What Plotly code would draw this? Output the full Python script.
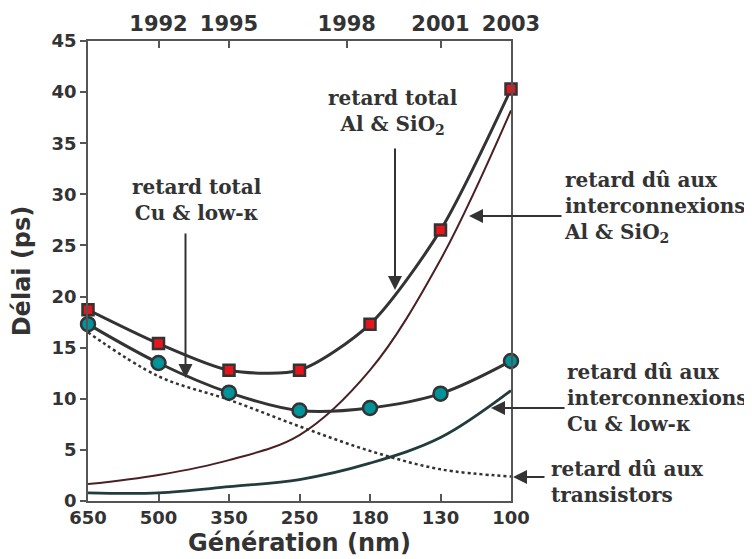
import plotly.graph_objects as go

generations = ["650", "500", "350", "250", "180", "130", "100"]
xi = list(range(len(generations)))
years = ["1992", "1995", "1998", "2001", "2003"]
year_pos = [1, 2, 3.67, 5, 6]

total_al = [18.7, 15.4, 12.8, 12.8, 17.3, 26.5, 40.3]
total_cu = [17.3, 13.5, 10.6, 8.85, 9.1, 10.5, 13.7]
inter_al = [1.65, 2.55, 4.0, 6.45, 12.8, 23.6, 38.2]
inter_cu = [0.8, 0.8, 1.4, 2.1, 3.7, 6.2, 10.8]
transistors = [16.5, 12.2, 9.9, 7.3, 4.9, 3.1, 2.4]

DARK = "#333333"
fig = go.Figure()

fig.add_trace(go.Scatter(x=xi, y=inter_al, mode="lines", line=dict(color="#4a2024", width=2, shape="spline"),
                         cliponaxis=False, showlegend=False))
fig.add_trace(go.Scatter(x=xi, y=inter_cu, mode="lines", line=dict(color="#223c3e", width=2.8, shape="spline"),
                         cliponaxis=False, showlegend=False))
fig.add_trace(go.Scatter(x=xi, y=transistors, mode="lines", line=dict(color=DARK, width=2.5, dash="dot", shape="spline"),
                         cliponaxis=False, showlegend=False))
fig.add_trace(go.Scatter(x=xi, y=total_al, mode="lines+markers",
                         line=dict(color=DARK, width=3, shape="spline", smoothing=0.75),
                         marker=dict(symbol="square", size=11, color="#e8141c", line=dict(color=DARK, width=2.5)),
                         cliponaxis=False, showlegend=False))
fig.add_trace(go.Scatter(x=xi, y=total_cu, mode="lines+markers", line=dict(color=DARK, width=3, shape="spline"),
                         marker=dict(symbol="circle", size=14, color="#00939a", line=dict(color=DARK, width=2.5)),
                         cliponaxis=False, showlegend=False))
# invisible trace for top axis
fig.add_trace(go.Scatter(x=[0, 6], y=[0, 0], xaxis="x2", mode="markers", marker=dict(opacity=0),
                         showlegend=False, hoverinfo="skip"))

# the page body adds an 8px offset; compensate so the plot lands where the reference has it
OFF = 8
W, H = 744, 551
L, R, T, B = 80, 241, 33, 58

fig.update_layout(
    width=W, height=H,
    margin=dict(l=L, r=R, t=T, b=B),
    paper_bgcolor="white", plot_bgcolor="white",
    font=dict(family="DejaVu Sans", color=DARK),
    xaxis=dict(range=[0, 6], tickvals=xi, ticktext=[f"<b>{g}</b>" for g in generations],
               ticks="inside", ticklen=7, tickwidth=1.5, tickcolor="#555", automargin=False,
               showline=True, linecolor="#555", linewidth=1.5, showgrid=False, zeroline=False,
               tickfont=dict(family="DejaVu Sans", size=18, color=DARK),
               title=dict(text="<b>Génération (nm)</b>", font=dict(family="DejaVu Sans", size=24, color=DARK), standoff=7)),
    xaxis2=dict(range=[0, 6], overlaying="x", side="top", tickvals=year_pos,
                ticktext=[f"<b>{y}</b>" for y in years], automargin=False,
                ticks="inside", ticklen=7, tickwidth=1.5, tickcolor="#555",
                showline=True, linecolor="#555", linewidth=1.5, showgrid=False, zeroline=False,
                tickfont=dict(family="DejaVu Sans", size=21, color=DARK)),
    yaxis=dict(range=[0, 45], tickvals=list(range(0, 46, 5)), ticktext=[f"<b>{v}</b>" for v in range(0, 46, 5)],
               ticks="outside", ticklen=6, tickwidth=1.5, tickcolor="#555", automargin=False,
               showline=True, linecolor="#555", linewidth=1.5, mirror=True, showgrid=False, zeroline=False,
               tickfont=dict(family="DejaVu Sans", size=18, color=DARK),
               title=dict(text="<b>Délai (ps)</b>", font=dict(family="DejaVu Sans", size=24, color=DARK), standoff=22)),
)

afont = dict(family="DejaVu Serif", size=20, color=DARK)
def px_x(px):
    return (px - OFF - L) / (W - L - R)
def px_y(py):
    return (H - B - (py - OFF)) / (H - T - B)

def label(text, x, y, align="center", xanchor="center"):
    fig.add_annotation(text=text, x=px_x(x), y=px_y(y), xref="paper", yref="paper", xanchor=xanchor, yanchor="middle",
                       align=align, showarrow=False, font=afont)

label("<b>retard total<br>Cu &amp; low-κ</b>", 197, 200)
label("<b>retard total<br>Al &amp; SiO<sub>2</sub></b>", 393, 112)
label("<b>retard dû aux<br>interconnexions<br>Al &amp; SiO<sub>2</sub></b>", 562, 207, align="left", xanchor="left")
label("<b>retard dû aux<br>interconnexions<br>Cu &amp; low-κ</b>", 565, 398, align="left", xanchor="left")
label("<b>retard dû aux<br>transistors</b>", 549, 482, align="left", xanchor="left")

def arrow(x0, y0, x1, y1):
    fig.add_annotation(x=px_x(x1), y=px_y(y1), ax=x0 - x1, ay=y0 - y1, xref="paper", yref="paper",
                       axref="pixel", ayref="pixel", showarrow=True, arrowhead=2, arrowsize=1.4,
                       arrowwidth=2, arrowcolor=DARK, text="")

arrow(185.5, 232, 185.5, 378)
arrow(395, 147, 395, 290)
arrow(563, 216, 469, 216)
arrow(566, 408, 491, 408)
arrow(546, 477, 513, 477)

fig.write_html("out.html")
